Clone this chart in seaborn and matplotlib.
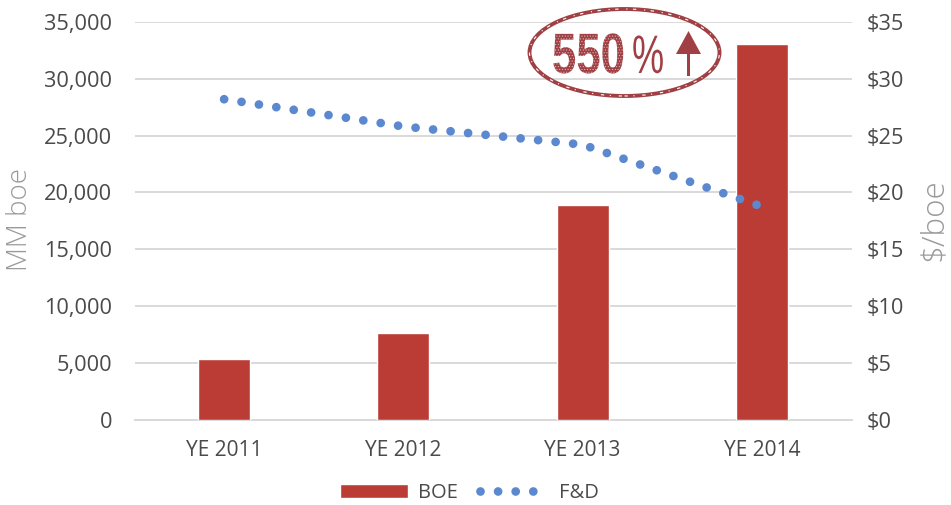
import matplotlib
matplotlib.use("Agg")
import matplotlib.pyplot as plt
import pandas as pd
import seaborn as sns
from matplotlib.patches import Ellipse, Polygon
from matplotlib.patheffects import AbstractPathEffect
from matplotlib.transforms import Affine2D

categories = ["YE 2011", "YE 2012", "YE 2013", "YE 2014"]
boe_values = [5350, 7650, 18850, 33050]
fd_values = [28.2, 25.8, 24.2, 18.75]
stamp_text = "550"

W, H = 951, 505
sns.set_theme(style="white")
plt.rcParams["font.family"] = ["Open Sans", "DejaVu Sans"]
plt.rcParams["hatch.linewidth"] = 0.5

TXT = "#4a4a4a"
GRID = "#d9d9d9"
RED = "#ba3c35"
BLUE = "#5b88cf"
TITLE = "#9a9a9a"
STAMP = "#a04044"


class Stretch(AbstractPathEffect):
    """Tall, worn letterforms for the stamp: keeps the text as text."""

    def __init__(self, sy, hatch=None):
        super().__init__()
        self.sy = sy
        self.hatch = hatch

    def draw_path(self, renderer, gc, tpath, affine, rgbFace=None):
        gc0 = renderer.new_gc()
        gc0.copy_properties(gc)
        if self.hatch:
            gc0.set_hatch(self.hatch)
            gc0.set_hatch_color((1, 1, 1, 0.55))
        renderer.draw_path(gc0, tpath, Affine2D().scale(1, self.sy) + affine, rgbFace)
        gc0.restore()


fig = plt.figure(figsize=(W / 100, H / 100), dpi=100, facecolor="white")
ax = fig.add_axes([134.5 / W, 1 - 419.5 / H, 717 / W, 397.5 / H])

df = pd.DataFrame({"cat": categories, "BOE": boe_values, "FD": fd_values})
sns.barplot(data=df, x="cat", y="BOE", color=RED, saturation=1, width=0.29, ax=ax, label="BOE", zorder=3)
ax.set_xlim(-0.5, 3.5)
ax.set_ylim(0, 35000)
ax.set_yticks(range(0, 35001, 5000))
ax.set_yticklabels([f"{v:,}" for v in range(0, 35001, 5000)])
ax.yaxis.grid(True, color=GRID, lw=1.4, zorder=0)
ax.set_axisbelow(True)
ax.xaxis.grid(False)
for s in ["top", "left", "right"]:
    ax.spines[s].set_visible(False)
ax.spines["bottom"].set_color(GRID)
ax.spines["bottom"].set_linewidth(1.4)
ax.tick_params(axis="y", length=0, labelsize=15.7, labelcolor=TXT, pad=16)
ax.tick_params(axis="x", length=0, labelsize=15, labelcolor=TXT, pad=15)
ax.set_xlabel("")
ax.set_ylabel("")

ax2 = ax.twinx()
sns.lineplot(data=df, x="cat", y="FD", color=BLUE, lw=6.3, ax=ax2, label="F&D",
             linestyle=(0, (0.001, 2.01)), dash_capstyle="round", sort=False)
ax2.set_ylim(0, 35)
ax2.set_yticks(range(0, 36, 5))
ax2.set_yticklabels([f"${v}" for v in range(0, 36, 5)])
ax2.grid(False)
for s in ["top", "left", "right", "bottom"]:
    ax2.spines[s].set_visible(False)
ax2.tick_params(axis="y", length=0, labelsize=15.7, labelcolor=TXT, pad=11)
ax2.set_xlabel("")
ax2.set_ylabel("")
ax2.get_legend().remove()

fig.text(20 / W, 1 - 220 / H, "MM boe", rotation=90, ha="center", va="center", fontsize=20, color=TITLE,
         fontweight="light")
fig.text(934 / W, 1 - 219.5 / H, "$/boe", rotation=90, ha="center", va="center", fontsize=22.5, color=TITLE,
         fontweight="light")

h1, l1 = ax.get_legend_handles_labels()
h2, l2 = ax2.get_legend_handles_labels()
ax.get_legend().remove()
fig.legend(h1 + h2, l1 + l2, loc="center", bbox_to_anchor=(469 / W, 1 - 493 / H), ncol=2, frameon=False,
           fontsize=14.5, handlelength=3.4, handletextpad=0.5, columnspacing=1.1, labelcolor=TXT)

# stamp
fig.add_artist(Ellipse((624.5 / W, 1 - 52.5 / H), 190 / W, 87 / H, transform=fig.transFigure,
                       fill=False, ec=STAMP, lw=2.8, zorder=10))
fig.add_artist(Ellipse((624.5 / W, 1 - 52.5 / H), 190 / W, 87 / H, transform=fig.transFigure,
                       fill=False, ec="white", lw=0.8, ls=(0, (3, 5, 1, 7)), zorder=10.5))
fig.text(552 / W, 1 - 73 / H, stamp_text, fontsize=31.5, fontweight="bold", family="Liberation Sans",
         color=STAMP, ha="left", va="baseline", zorder=11, path_effects=[Stretch(1.3, "......")])
fig.text(632 / W, 1 - 73 / H, "%", fontsize=26, family="Liberation Sans",
         color=STAMP, ha="left", va="baseline", zorder=11, path_effects=[Stretch(1.5)])
fig.add_artist(Polygon([(676 / W, 1 - 54 / H), (701 / W, 1 - 54 / H), (688.5 / W, 1 - 31 / H)],
                       transform=fig.transFigure, fc=STAMP, ec="none", zorder=11))
fig.add_artist(Polygon([(687 / W, 1 - 54 / H), (690 / W, 1 - 54 / H), (690 / W, 1 - 76 / H), (687 / W, 1 - 76 / H)],
                       transform=fig.transFigure, fc=STAMP, ec="none", zorder=11))

fig.savefig("out.png", dpi=100)
